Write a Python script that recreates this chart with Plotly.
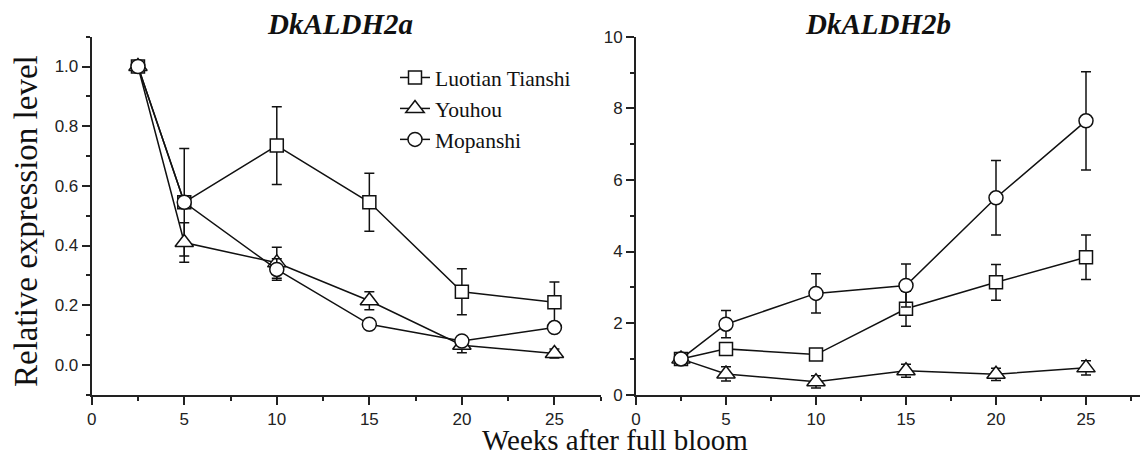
import plotly.graph_objects as go

weeks = [2.5, 5, 10, 15, 20, 25]
cultivars = ["Luotian Tianshi", "Youhou", "Mopanshi"]
symbols = ["square", "triangle-up", "circle"]
marker_sizes = [13, 16, 14]

# DkALDH2a
a_luotian = [1.0, 0.545, 0.735, 0.545, 0.245, 0.21]
a_luotian_err = [0.0, 0.18, 0.13, 0.097, 0.077, 0.068]
a_youhou = [1.0, 0.41, 0.342, 0.215, 0.066, 0.038]
a_youhou_err = [0.0, 0.066, 0.052, 0.03, 0.025, 0.015]
a_mopanshi = [1.0, 0.545, 0.32, 0.136, 0.08, 0.125]
a_mopanshi_err = [0.0, 0.02, 0.036, 0.012, 0.012, 0.015]

# DkALDH2b
b_luotian = [1.0, 1.28, 1.12, 2.40, 3.14, 3.84]
b_luotian_err = [0.05, 0.1, 0.1, 0.49, 0.5, 0.62]
b_youhou = [1.0, 0.58, 0.36, 0.67, 0.57, 0.75]
b_youhou_err = [0.05, 0.2, 0.17, 0.18, 0.17, 0.2]
b_mopanshi = [1.0, 1.97, 2.83, 3.05, 5.50, 7.65]
b_mopanshi_err = [0.05, 0.38, 0.55, 0.6, 1.04, 1.37]

panel_a = [(a_luotian, a_luotian_err), (a_youhou, a_youhou_err), (a_mopanshi, a_mopanshi_err)]
panel_b = [(b_luotian, b_luotian_err), (b_youhou, b_youhou_err), (b_mopanshi, b_mopanshi_err)]

W, H = 1140, 454
fig = go.Figure()

for panel, (xa, ya, show) in [(panel_a, ("x", "y", True)), (panel_b, ("x2", "y2", False))]:
    for i, (vals, errs) in enumerate(panel):
        fig.add_trace(go.Scatter(
            x=weeks, y=vals, name=cultivars[i], legendgroup=cultivars[i], showlegend=show,
            xaxis=xa, yaxis=ya, mode="lines+markers",
            line=dict(color="#111", width=1.5),
            marker=dict(symbol=symbols[i], size=marker_sizes[i], color="white",
                        line=dict(color="#111", width=1.5)),
            error_y=dict(type="data", array=errs, color="#111", thickness=1.5, width=5),
        ))

px_x = lambda p: p / W
px_y = lambda p: (H - p) / H

tickfont = dict(family="Liberation Sans, Arial", size=17, color="#222")
common_axis = dict(showline=True, linecolor="#222", linewidth=2, ticks="outside",
                   tickcolor="#222", tickwidth=1.5, ticklen=8, showgrid=False,
                   zeroline=False, tickfont=tickfont, automargin=False, mirror=False)
minor_style = dict(ticks="outside", ticklen=4, tickcolor="#222", tickwidth=1.5)

fig.update_layout(
    width=W, height=H, template="none",
    margin=dict(l=0, r=0, t=0, b=0, pad=0),
    paper_bgcolor="white", plot_bgcolor="white",
    showlegend=True,
    legend=dict(x=px_x(395), y=px_y(57), xanchor="left", yanchor="top",
                font=dict(family="Liberation Serif, Times New Roman", size=21.5, color="#111"),
                bgcolor="rgba(0,0,0,0)", tracegroupgap=0, itemsizing="trace"),
    xaxis=dict(domain=[px_x(91.7), px_x(600.7)], range=[0, 27.5], dtick=5, tick0=0,
               anchor="y", minor=dict(dtick=2.5, tick0=0, **minor_style), **common_axis),
    yaxis=dict(domain=[px_y(394.7), px_y(36.7)], range=[-0.1, 1.1], dtick=0.2, tick0=0,
               tickformat=".1f", anchor="x",
               minor=dict(dtick=0.1, tick0=0, **minor_style), **common_axis),
    xaxis2=dict(domain=[px_x(636), 1.0], range=[0, 28], dtick=5, tick0=0, anchor="y2",
                minor=dict(dtick=2.5, tick0=0, **minor_style), **common_axis),
    yaxis2=dict(domain=[px_y(394.7), px_y(36.7)], range=[0, 10], dtick=2, tick0=0, anchor="x2",
                minor=dict(dtick=1, tick0=0, **minor_style), **common_axis),
)

serif = "Liberation Serif, Times New Roman"
fig.add_annotation(text="<b><i>DkALDH2a</i></b>", xref="paper", yref="paper",
                   x=px_x(340), y=px_y(24), xanchor="center", yanchor="middle",
                   showarrow=False, font=dict(family=serif, size=29, color="#111"))
fig.add_annotation(text="<b><i>DkALDH2b</i></b>", xref="paper", yref="paper",
                   x=px_x(878), y=px_y(24), xanchor="center", yanchor="middle",
                   showarrow=False, font=dict(family=serif, size=29, color="#111"))
fig.add_annotation(text="Relative expression level", xref="paper", yref="paper",
                   x=px_x(26), y=px_y(221), xanchor="center", yanchor="middle", textangle=-90,
                   showarrow=False, font=dict(family=serif, size=33, color="#111"))
fig.add_annotation(text="Weeks after full bloom", xref="paper", yref="paper",
                   x=px_x(615), y=-3 / H, xanchor="center", yanchor="bottom", borderpad=0,
                   showarrow=False, font=dict(family=serif, size=29, color="#111"))

fig.write_html("out.html")
